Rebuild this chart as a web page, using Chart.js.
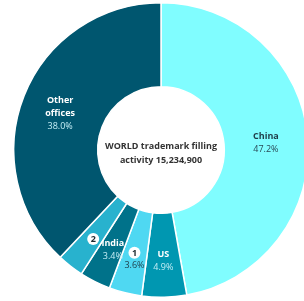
<!DOCTYPE html>
<html>
<head>
<meta charset="utf-8">
<script src="https://cdn.jsdelivr.net/npm/chart.js@4"></script>
<style>
  html, body { margin: 0; padding: 0; background: #ffffff; overflow: hidden; }
  #grafico { position: absolute; left: 0; top: 0; }
</style>
</head>
<body>
<canvas id="grafico" width="322" height="300"></canvas>
<script>
// ---------- DADOS ----------
const offices = ["China", "US", "", "India", "", "Other offices"];
const shares = [47.2, 4.9, 3.6, 3.4, 2.9, 38.0];
const shareLabels = ["47.2%", "4.9%", "3.6%", "3.4%", "", "38.0%"];
const nameLines = [["China"], ["US"], [], ["India"], [], ["Other", "offices"]];
const footnotes = ["", "", "1", "", "2", ""];
const centerLines = ["WORLD trademark filling", "activity 15,234,900"];

const sliceColors = ["#80fdff", "#0097b1", "#4fd8f2", "#00728a", "#28b2ce", "#00566f"];
const nameColors = ["#1e3c48", "#ffffff", "#1e3c48", "#ffffff", "#ffffff", "#ffffff"];
const pctColors = ["#2a4a57", "#c4eef6", "#1e3c48", "#c4eef6", "#c4eef6", "#c4eef6"];

// ajuste fino de cada rótulo em relação ao centro do arco
const labelShift = [
  { dx: 0, dy: 2 },
  { dx: 0, dy: 6 },
  { dx: -1, dy: 7 },
  { dx: -1, dy: 6 },
  { dx: -3, dy: 6 },
  { dx: -3, dy: 2 }
];

const FONT = "'Open Sans', 'Noto Sans', sans-serif";

// ---------- PLUGIN DOS RÓTULOS ----------
const rotulosPlugin = {
  id: "rotulos",
  afterDatasetsDraw(chart) {
    const ctx = chart.ctx;
    const meta = chart.getDatasetMeta(0);
    ctx.save();
    ctx.textAlign = "center";
    ctx.textBaseline = "middle";

    meta.data.forEach((arc, i) => {
      const p = arc.getCenterPoint();
      const x = p.x + labelShift[i].dx;
      const cy = p.y + labelShift[i].dy;
      const lineH = 13;

      const lines = [];
      if (footnotes[i]) lines.push({ type: "note", text: footnotes[i] });
      nameLines[i].forEach(t => lines.push({ type: "name", text: t }));
      if (shareLabels[i]) lines.push({ type: "pct", text: shareLabels[i] });

      let y = cy - (lines.length - 1) * lineH / 2;
      lines.forEach(l => {
        if (l.type === "note") {
          ctx.beginPath();
          ctx.arc(x, y, 6, 0, Math.PI * 2);
          ctx.fillStyle = "#ffffff";
          ctx.fill();
          ctx.fillStyle = "#1e2a30";
          ctx.font = "bold 9px " + FONT;
          ctx.fillText(l.text, x, y + 0.5);
        } else if (l.type === "name") {
          ctx.fillStyle = nameColors[i];
          ctx.font = "bold 9px " + FONT;
          ctx.fillText(l.text, x, y);
        } else {
          ctx.fillStyle = pctColors[i];
          ctx.font = "9px " + FONT;
          ctx.fillText(l.text, x, y);
        }
        y += lineH;
      });
    });

    // texto central
    const c = meta.data[0];
    ctx.fillStyle = "#333333";
    ctx.font = "bold 9px " + FONT;
    ctx.fillText(centerLines[0], c.x, c.y - 4);
    ctx.fillText(centerLines[1], c.x, c.y + 10);
    ctx.restore();
  }
};

// ---------- GRÁFICO ----------
const ctx = document.getElementById("grafico").getContext("2d");
window.grafico = new Chart(ctx, {
  type: "doughnut",
  data: {
    labels: offices,
    datasets: [{
      data: shares,
      backgroundColor: sliceColors,
      borderColor: "#ffffff",
      borderWidth: 1.5
    }]
  },
  options: {
    responsive: false,
    animation: false,
    cutout: "43%",
    layout: { padding: 2 },
    plugins: {
      legend: { display: false },
      tooltip: { enabled: false }
    }
  },
  plugins: [rotulosPlugin]
});
</script>
</body>
</html>
